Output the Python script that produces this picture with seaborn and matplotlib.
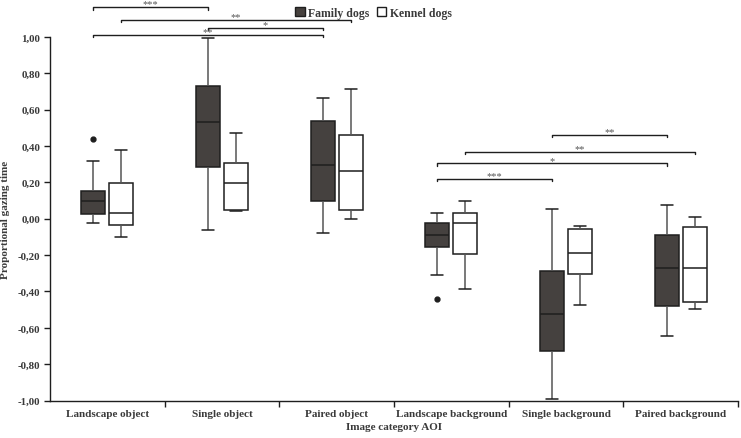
import matplotlib
matplotlib.use("Agg")
import matplotlib.pyplot as plt
from matplotlib.patches import Patch
import pandas as pd
import seaborn as sns

categories = ["Landscape object", "Single object", "Paired object",
              "Landscape background", "Single background", "Paired background"]
groups = ["Family dogs", "Kennel dogs"]

# five-number summaries (low whisker, q1, median, q3, high whisker)
family_low = [-0.026, -0.060, -0.078, -0.310, -0.990, -0.647]
family_q1 = [0.025, 0.282, 0.096, -0.157, -0.726, -0.482]
family_med = [0.096, 0.530, 0.296, -0.089, -0.524, -0.269]
family_q3 = [0.155, 0.730, 0.539, -0.025, -0.287, -0.089]
family_high = [0.320, 0.993, 0.664, 0.034, 0.056, 0.076]

kennel_low = [-0.100, 0.040, -0.004, -0.385, -0.477, -0.495]
kennel_q1 = [-0.034, 0.050, 0.050, -0.192, -0.302, -0.456]
kennel_med = [0.034, 0.194, 0.265, -0.021, -0.186, -0.269]
kennel_q3 = [0.194, 0.307, 0.460, 0.034, -0.054, -0.047]
kennel_high = [0.380, 0.473, 0.713, 0.098, -0.040, 0.007]

# outliers (family dogs)
outlier_cats = ["Landscape object", "Landscape background"]
outlier_vals = [0.438, -0.443]

# significance brackets
br_from = [("Landscape object", "Family dogs"), ("Landscape object", "Kennel dogs"),
           ("Single object", "Family dogs"), ("Landscape object", "Family dogs"),
           ("Single background", "Family dogs"), ("Landscape background", "Kennel dogs"),
           ("Landscape background", "Family dogs"), ("Landscape background", "Family dogs")]
br_to = [("Single object", "Family dogs"), ("Paired object", "Kennel dogs"),
         ("Paired object", "Family dogs"), ("Paired object", "Family dogs"),
         ("Paired background", "Family dogs"), ("Paired background", "Kennel dogs"),
         ("Paired background", "Family dogs"), ("Single background", "Family dogs")]
br_height = [1.164, 1.095, 1.050, 1.011, 0.462, 0.368, 0.304, 0.218]
br_label = ["***", "**", "*", "**", "**", "**", "*", "***"]

rows = []
for i, cat in enumerate(categories):
    for v in [family_low[i], family_q1[i], family_med[i], family_q3[i], family_high[i]]:
        rows.append((cat, "Family dogs", v))
    for v in [kennel_low[i], kennel_q1[i], kennel_med[i], kennel_q3[i], kennel_high[i]]:
        rows.append((cat, "Kennel dogs", v))
df = pd.DataFrame(rows, columns=["category", "group", "value"])

sns.set_style("ticks")
plt.rcParams["font.family"] = ["Liberation Serif", "DejaVu Serif"]
plt.rcParams["font.weight"] = "bold"
txt = "#3a3a3a"
dark = "#46413e"
line = "#1e1e1e"

fig = plt.figure(figsize=(7.41, 4.39), dpi=100)
ax = fig.add_axes([0.0675, 0.0854, 0.9285, 0.9146])

box_w = 0.49
sns.boxplot(data=df, x="category", y="value", hue="group", order=categories,
            hue_order=groups, palette={"Family dogs": dark, "Kennel dogs": "white"},
            width=box_w, gap=0.14, whis=(0, 100), linecolor=line, linewidth=1.1,
            whiskerprops={"color": "#555555"}, ax=ax, legend=False)

off = {"Family dogs": -box_w / 4, "Kennel dogs": box_w / 4}

ox = [categories.index(c) + off["Family dogs"] for c in outlier_cats]
ax.plot(ox, outlier_vals, "o", color=line, markersize=3.5)

for a, b, h, lab in zip(br_from, br_to, br_height, br_label):
    x1 = categories.index(a[0]) + off[a[1]]
    x2 = categories.index(b[0]) + off[b[1]]
    ax.plot([x1, x1, x2, x2], [h - 0.013, h, h, h - 0.013], color=line,
            linewidth=1.0, clip_on=False)
    ax.text((x1 + x2) / 2, h + 0.004, lab, ha="center", va="baseline",
            fontsize=7.5, color="#555555", fontweight="normal", clip_on=False)

ax.set_xlim(-0.5, 5.5)
ax.set_ylim(-1.0, 1.209)
yt = [-1.0 + 0.2 * k for k in range(11)]
ax.set_yticks(yt)
ax.set_yticklabels([f"{v:.2f}".replace(".", ",") for v in yt], fontsize=7.8,
                   color=txt, fontweight="bold")
ax.set_xticks(range(len(categories)))
ax.set_xticklabels(categories, fontsize=8, color=txt, fontweight="bold")
ax.set_xticks([k + 0.5 for k in range(len(categories))], minor=True)
ax.tick_params(axis="x", which="major", length=0, pad=6)
ax.tick_params(axis="x", which="minor", length=4, width=1, color=line)
ax.tick_params(axis="y", length=4, width=1, color=line, pad=3)

sns.despine(ax=ax)
ax.spines["left"].set_bounds(-1.0, 1.0)
for s in ["left", "bottom"]:
    ax.spines[s].set_color(line)
    ax.spines[s].set_linewidth(1.0)

ax.set_xlabel("Image category AOI", fontsize=8, color=txt, fontweight="bold",
              labelpad=3)
ax.set_ylabel("Proportional gazing time", fontsize=8, color=txt,
              fontweight="bold")
ax.yaxis.set_label_coords(-0.058, 0.452)

handles = [Patch(facecolor=dark, edgecolor=line, label="Family dogs"),
           Patch(facecolor="white", edgecolor=line, label="Kennel dogs")]
leg = ax.legend(handles=handles, loc="center", bbox_to_anchor=(0.47, 0.965),
                ncol=2, frameon=False, handlelength=0.8, handleheight=0.8,
                handletextpad=0.3, columnspacing=0.6,
                prop={"size": 8.5, "weight": "bold"})
for t in leg.get_texts():
    t.set_color(txt)

fig.savefig("out.png", dpi=100)
